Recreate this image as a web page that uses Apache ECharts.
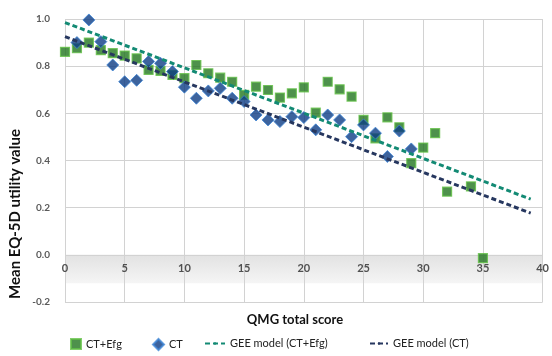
<!DOCTYPE html>
<html>
<head>
<meta charset="utf-8">
<script src="https://cdn.jsdelivr.net/npm/echarts@6/dist/echarts.min.js"></script>
<style>
html,body{margin:0;padding:0;background:#fff;}
#chart{width:552px;height:356px;}
</style>
</head>
<body>
<div id="chart"></div>
<script>
// ---- data ----
const ctEfgScores  = [0, 1, 2, 3, 4, 5, 6, 7, 8, 9, 10, 11, 12, 13, 14, 15, 16, 17, 18, 19, 20, 21, 22, 23, 24, 25, 26, 27, 28, 29, 30, 31, 32, 34, 35];
const ctEfgUtility = [0.861, 0.876, 0.900, 0.868, 0.855, 0.845, 0.833, 0.784, 0.780, 0.763, 0.749, 0.805, 0.770, 0.751, 0.734, 0.678, 0.713, 0.699, 0.667, 0.685, 0.710, 0.603, 0.734, 0.702, 0.671, 0.572, 0.494, 0.583, 0.541, 0.389, 0.455, 0.516, 0.268, 0.290, -0.014];

const ctScores  = [1, 2, 3, 4, 5, 6, 7, 8, 9, 10, 11, 12, 13, 14, 15, 16, 17, 18, 19, 20, 21, 22, 23, 24, 25, 26, 27, 28, 29];
const ctUtility = [0.900, 0.996, 0.904, 0.805, 0.734, 0.740, 0.820, 0.812, 0.777, 0.711, 0.664, 0.695, 0.706, 0.664, 0.650, 0.593, 0.572, 0.565, 0.586, 0.582, 0.530, 0.593, 0.572, 0.501, 0.551, 0.516, 0.417, 0.525, 0.449];

const geeScores     = [0, 39];
const geeCtEfgModel = [0.985, 0.236];
const geeCtModel    = [0.925, 0.177];

const seriesNames = ['CT+Efg', 'CT', 'GEE model (CT+Efg)', 'GEE model (CT)'];
const xTitle = 'QMG total score';
const yTitle = 'Mean EQ-5D utility value';

const pairs = (xs, ys) => xs.map((x, i) => [x, ys[i]]);

const FONT = 'Lato';
const chart = echarts.init(document.getElementById('chart'), null, {renderer: 'canvas'});

function legendAt(name, left, w, h) {
  return {
    data: [name], left: left, top: 333, itemWidth: w, itemHeight: h, itemGap: 0,
    textStyle: {fontFamily: FONT, fontSize: 11, color: '#222'}
  };
}

chart.setOption({
  animation: false,
  backgroundColor: '#ffffff',
  grid: {left: 65, right: 1, top: 19, bottom: 54},
  xAxis: {
    type: 'value', min: 0, max: 40, interval: 5, z: 1,
    axisLine: {show: false},
    axisTick: {show: false},
    axisLabel: {margin: -39, fontFamily: FONT, fontSize: 11, fontWeight: 'bold', color: '#505050'},
    splitLine: {show: true, lineStyle: {color: '#d2d2d2', width: 1}}
  },
  yAxis: {
    type: 'value', min: -0.2, max: 1.0, interval: 0.2, z: 1,
    axisLine: {show: false},
    axisTick: {show: false},
    axisLabel: {margin: 15, fontFamily: FONT, fontSize: 10, fontWeight: 'bold', color: '#5a5a5a',
      formatter: v => v.toFixed(1)},
    splitLine: {show: true, lineStyle: {color: '#d2d2d2', width: 1}}
  },
  legend: [
    legendAt(seriesNames[0], 65, 10, 10),
    legendAt(seriesNames[1], 147, 11, 11),
    legendAt(seriesNames[2], 199, 20, 3),
    legendAt(seriesNames[3], 364, 18, 3)
  ],
  graphic: [
    {type: 'text', silent: true, x: 15, y: 214, rotation: Math.PI / 2,
     style: {text: yTitle, fontFamily: FONT, fontSize: 15, fontWeight: 'bold', fill: '#111',
             align: 'center', verticalAlign: 'middle'}},
    {type: 'text', silent: true, x: 295, y: 320,
     style: {text: xTitle, fontFamily: FONT, fontSize: 13, fontWeight: 'bold', fill: '#111',
             align: 'center', verticalAlign: 'middle'}}
  ],
  series: [
    {
      name: 'band', type: 'line', data: [], z: 0, silent: true,
      markArea: {
        silent: true, z: 0,
        itemStyle: {color: new echarts.graphic.LinearGradient(0, 0, 0, 1, [
          {offset: 0, color: '#e2e2e2'}, {offset: 1, color: '#f5f5f5'}])},
        data: [[{xAxis: 'min', yAxis: 0}, {xAxis: 'max', yAxis: -0.12}]]
      }
    },
    {
      name: seriesNames[0], type: 'scatter', symbol: 'rect', symbolSize: 9, z: 3,
      itemStyle: {color: '#22761f', borderColor: '#63c046', borderWidth: 1.2},
      data: pairs(ctEfgScores, ctEfgUtility)
    },
    {
      name: seriesNames[1], type: 'scatter', symbol: 'diamond', symbolSize: 12, z: 4,
      itemStyle: {color: '#0d3c84', borderColor: '#3d86d6', borderWidth: 1},
      data: pairs(ctScores, ctUtility)
    },
    {
      name: seriesNames[2], type: 'line', symbol: 'none', z: 5,
      lineStyle: {color: '#138a74', width: 3, type: [5, 3]},
      itemStyle: {color: '#138a74'},
      data: pairs(geeScores, geeCtEfgModel)
    },
    {
      name: seriesNames[3], type: 'line', symbol: 'none', z: 5,
      lineStyle: {color: '#26375f', width: 3, type: [5, 3]},
      itemStyle: {color: '#26375f'},
      data: pairs(geeScores, geeCtModel)
    }
  ]
});
</script>
</body>
</html>
